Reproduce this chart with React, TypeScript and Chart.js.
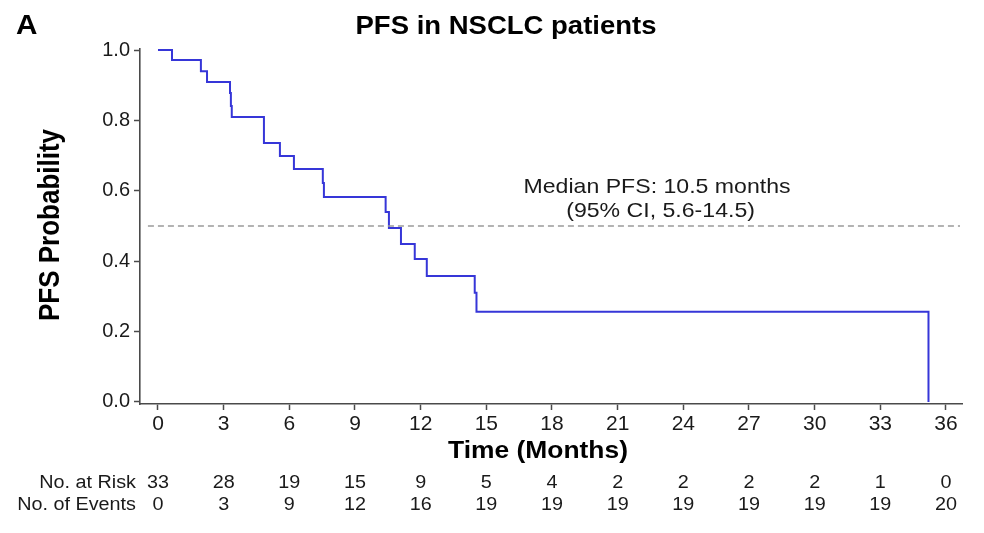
import React, { useEffect, useRef } from "react";
import { Chart, registerables } from "chart.js";

Chart.register(...registerables);

// Kaplan-Meier curve (time in months, PFS probability)
const stepTimes = [0, 0.64, 1.96, 2.24, 3.29, 3.33, 3.37, 4.84, 5.57, 6.21, 7.53, 7.58, 10.4, 10.55, 11.1, 11.73, 12.28, 14.47, 14.55, 35.2];
const stepSurvival = [1.0, 0.972, 0.94, 0.909, 0.878, 0.841, 0.81, 0.736, 0.699, 0.662, 0.622, 0.582, 0.54, 0.494, 0.449, 0.406, 0.358, 0.31, 0.256, 0];

const xTicks = [0, 3, 6, 9, 12, 15, 18, 21, 24, 27, 30, 33, 36];
const yTicks = [0, 0.2, 0.4, 0.6, 0.8, 1.0];

const atRisk = [33, 28, 19, 15, 9, 5, 4, 2, 2, 2, 2, 1, 0];
const eventsCount = [0, 3, 9, 12, 16, 19, 19, 19, 19, 19, 19, 19, 20];

const medianLevel = 0.5;
const medianLineSpan = [-0.46, 36.64];
const medianText = ["Median PFS: 10.5 months", "(95% CI, 5.6-14.5)"];

const FONT = "'Liberation Sans', Arial, Helvetica, sans-serif";

function drawText(
  ctx: CanvasRenderingContext2D,
  s: string,
  x: number,
  y: number,
  font: string,
  align: CanvasTextAlign,
  sx = 1.1,
  color = "#1a1a1a"
) {
  ctx.save();
  ctx.translate(x, y);
  ctx.scale(sx, 1);
  ctx.font = font;
  ctx.fillStyle = color;
  ctx.textAlign = align;
  ctx.textBaseline = "middle";
  ctx.fillText(s, 0, 0);
  ctx.restore();
}

const decorPlugin = {
  id: "decor",
  afterDraw(chart: any) {
    const ctx: CanvasRenderingContext2D = chart.ctx;
    const xs = chart.scales.x;
    const ys = chart.scales.y;

    // Panel letter
    drawText(ctx, "A", 16, 27, `bold 27px ${FONT}`, "left", 1.1, "#000");
    // Title
    drawText(ctx, "PFS in NSCLC patients", 506, 27, `bold 25px ${FONT}`, "center", 1.1, "#000");

    // Y axis title (rotated)
    ctx.save();
    ctx.translate(59, 225);
    ctx.rotate(-Math.PI / 2);
    ctx.scale(1, 1.1);
    ctx.font = `bold 26px ${FONT}`;
    ctx.fillStyle = "#000";
    ctx.textAlign = "center";
    ctx.textBaseline = "alphabetic";
    ctx.fillText("PFS Probability", 0, 0);
    ctx.restore();

    // X axis title
    drawText(ctx, "Time (Months)", 538, 451, `bold 24px ${FONT}`, "center", 1.1, "#000");

    // Median annotation
    drawText(ctx, medianText[0], xs.getPixelForValue(22.8), ys.getPixelForValue(0.611), `21px ${FONT}`, "center", 1.1);
    drawText(ctx, medianText[1], xs.getPixelForValue(22.96), ys.getPixelForValue(0.543), `21px ${FONT}`, "center", 1.1);

    // Risk table
    const rowY1 = 483;
    const rowY2 = 505.5;
    drawText(ctx, "No. at Risk", 136, rowY1, `18px ${FONT}`, "right", 1.1);
    drawText(ctx, "No. of Events", 136, rowY2, `18px ${FONT}`, "right", 1.1);
    xTicks.forEach((t, i) => {
      const px = xs.getPixelForValue(t);
      drawText(ctx, String(atRisk[i]), px, rowY1, `18px ${FONT}`, "center", 1.1);
      drawText(ctx, String(eventsCount[i]), px, rowY2, `18px ${FONT}`, "center", 1.1);
    });
  },
};

export default function App() {
  const ref = useRef<HTMLCanvasElement | null>(null);

  useEffect(() => {
    if (!ref.current) return;
    const kmData = stepTimes.map((t, i) => ({ x: t, y: stepSurvival[i] }));
    const medData = medianLineSpan.map((x) => ({ x, y: medianLevel }));
    const axisColor = "#4a4a4a";

    const chart = new Chart(ref.current, {
      type: "line",
      data: {
        datasets: [
          {
            label: "Median",
            data: medData,
            borderColor: "#9a9a9a",
            borderWidth: 1.6,
            borderDash: [6, 4],
            pointRadius: 0,
            fill: false,
          },
          {
            label: "PFS",
            data: kmData,
            stepped: "before",
            borderColor: "#3636d8",
            borderWidth: 2,
            pointRadius: 0,
            fill: false,
          },
        ],
      },
      options: {
        animation: false,
        responsive: false,
        maintainAspectRatio: false,
        layout: { padding: { left: 0, top: 49, right: 22, bottom: 99 } },
        plugins: {
          legend: { display: false },
          title: { display: false },
          tooltip: { enabled: false },
        },
        scales: {
          x: {
            type: "linear",
            min: -0.822,
            max: 36.731,
            afterFit: (s: any) => {
              s.height = 30;
            },
            afterBuildTicks: (s: any) => {
              s.ticks = xTicks.map((v) => ({ value: v }));
            },
            ticks: {
              autoSkip: false,
              maxRotation: 0,
              padding: 2,
              color: "#1a1a1a",
              font: { family: FONT, size: 21 },
              callback: (v: any) => String(v),
            },
            grid: {
              display: true,
              drawOnChartArea: false,
              drawTicks: true,
              tickLength: 6,
              tickWidth: 1.5,
              color: axisColor,
            },
            border: { display: true, color: axisColor, width: 1.6 },
          },
          y: {
            type: "linear",
            min: -0.006,
            max: 1.003,
            afterFit: (s: any) => {
              s.width = 140;
            },
            afterBuildTicks: (s: any) => {
              s.ticks = yTicks.map((v) => ({ value: v }));
            },
            ticks: {
              autoSkip: false,
              padding: 4,
              color: "#1a1a1a",
              font: { family: FONT, size: 20 },
              callback: (v: any) => Number(v).toFixed(1),
            },
            grid: {
              display: true,
              drawOnChartArea: false,
              drawTicks: true,
              tickLength: 6,
              tickWidth: 1.5,
              color: axisColor,
            },
            border: { display: true, color: axisColor, width: 1.6 },
          },
        },
      },
      plugins: [decorPlugin],
    });
    return () => chart.destroy();
  }, []);

  return (
    <div style={{ position: "fixed", left: 0, top: 0, width: 984, height: 533, background: "#fff" }}>
      <canvas ref={ref} width={984} height={533} style={{ display: "block" }} />
    </div>
  );
}
